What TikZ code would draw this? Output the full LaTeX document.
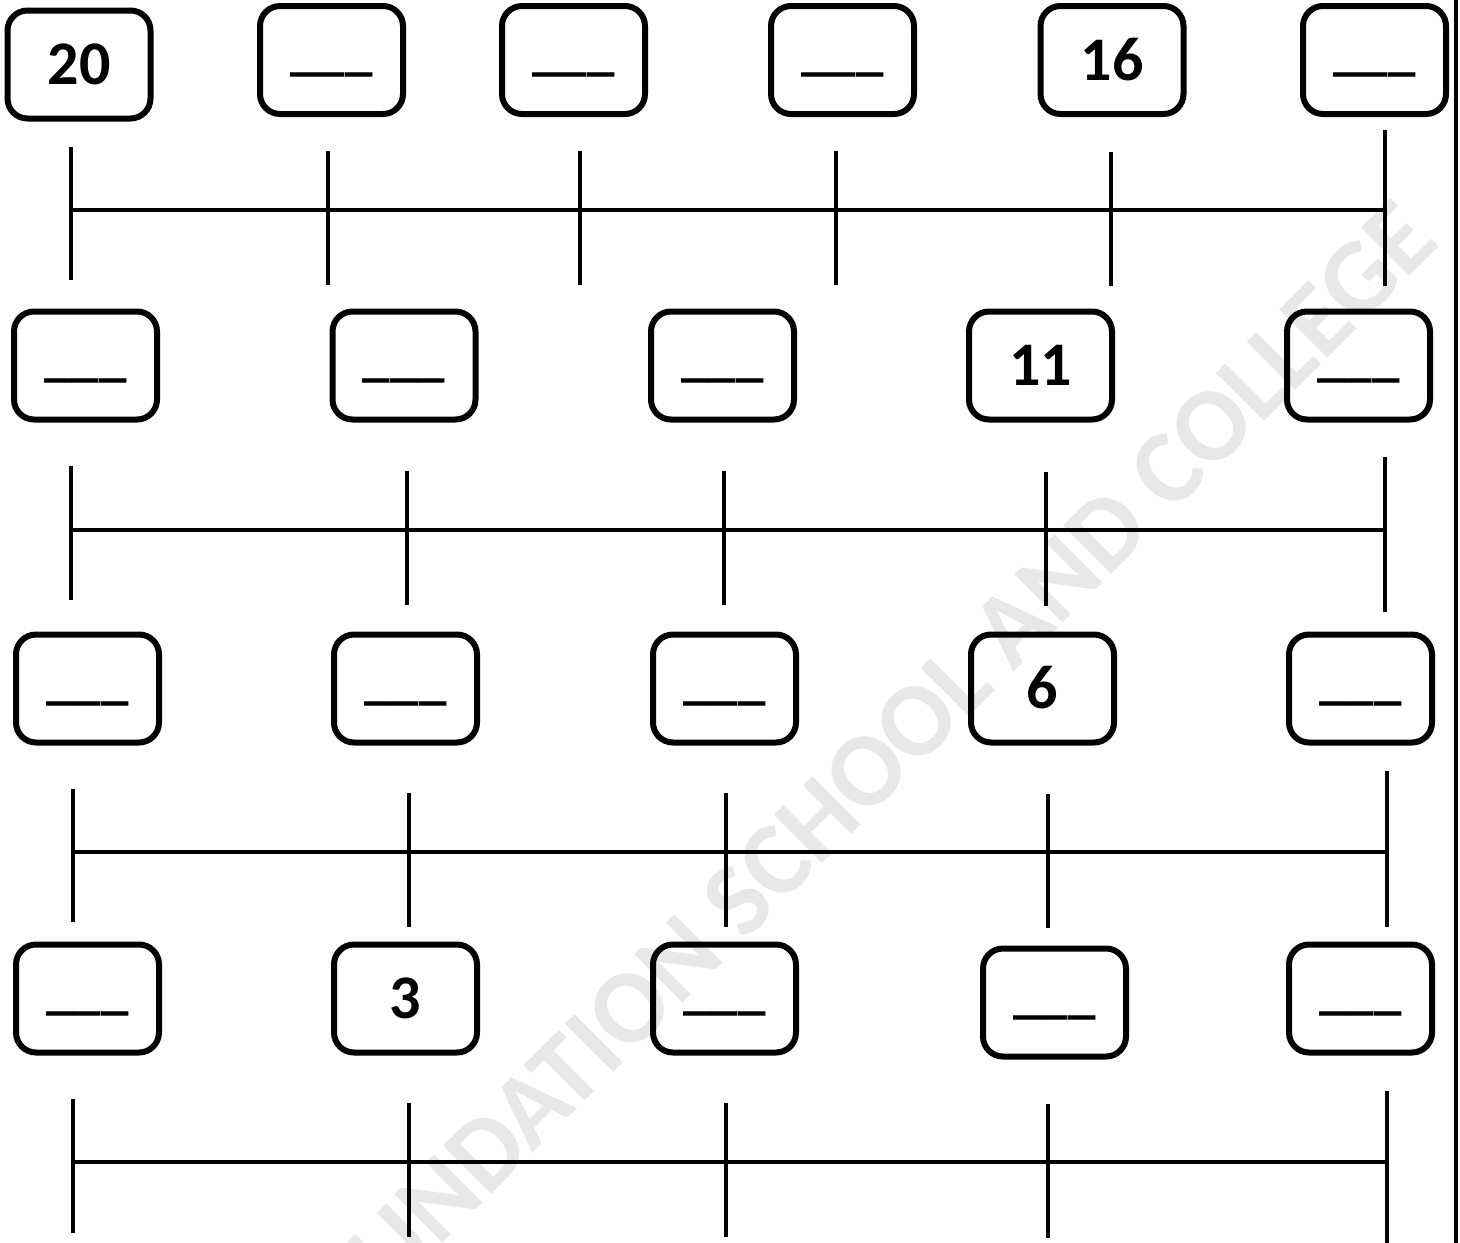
\documentclass[tikz,border=0pt]{standalone}
\usepackage{fontspec}
\setmainfont{Carlito}
\begin{document}
\begin{tikzpicture}[x=1pt,y=-1pt,
  box/.style={draw,line width=6pt,rounded corners=20pt,minimum width=143pt,minimum height=108pt,inner sep=0pt},
  numbox/.style={box,font=\fontsize{62}{62}\bfseries,text height=40pt,text depth=0pt},
  blankbox/.style={box,font=\fontsize{55}{55}\bfseries,text height=19pt,text depth=0pt},
  tickline/.style={line width=4pt},
  axisline/.style={line width=4.5pt},
  wmark/.style={rotate=45,text=black!9,font=\fontsize{105}{105}\bfseries,inner sep=0pt}]
\useasboundingbox (0,0) rectangle (1460,1243);
\clip (0,0) rectangle (1460,1243);
% watermark
\node[wmark] (wm) at (850,788) {FOUNDATION SCHOOL AND COLLEGE};
% row 1 boxes
\node[numbox] (a1) at (79,64.5) {20};
\node[blankbox] (a2) at (331.5,60) {\_\_\_};
\node[blankbox] (a3) at (573.5,60) {\_\_\_};
\node[blankbox] (a4) at (842.5,60) {\_\_\_};
\node[numbox] (a5) at (1112,60) {16};
\node[blankbox] (a6) at (1374.5,60) {\_\_\_};
% row 2 boxes
\node[blankbox] (b1) at (85.5,365.5) {\_\_\_};
\node[blankbox] (b2) at (404,365.5) {\_\_\_};
\node[blankbox] (b3) at (722.5,365.5) {\_\_\_};
\node[numbox] (b4) at (1040.5,365.5) {11};
\node[blankbox] (b5) at (1358.5,365.5) {\_\_\_};
% row 3 boxes
\node[blankbox] (c1) at (87.5,688.5) {\_\_\_};
\node[blankbox] (c2) at (405.5,688.5) {\_\_\_};
\node[blankbox] (c3) at (724.5,688.5) {\_\_\_};
\node[numbox] (c4) at (1042.5,688.5) {6};
\node[blankbox] (c5) at (1360.5,688.5) {\_\_\_};
% row 4 boxes
\node[blankbox] (d1) at (87.5,998.5) {\_\_\_};
\node[numbox] (d2) at (405.5,998.5) {3};
\node[blankbox] (d3) at (724.5,998.5) {\_\_\_};
\node[blankbox] (d4) at (1054.5,1002.5) {\_\_\_};
\node[blankbox] (d5) at (1360.5,998.5) {\_\_\_};
% number line 1
\coordinate (l1s) at (71,210);
\coordinate (l1e) at (1385,210);
\draw[axisline] (l1s) -- (l1e);
\draw[tickline] (71,147) -- (71,280);
\draw[tickline] (328,151) -- (328,285);
\draw[tickline] (580,151) -- (580,285);
\draw[tickline] (836,151) -- (836,285);
\draw[tickline] (1111,152) -- (1111,286);
\draw[tickline] (1385,130) -- (1385,286);
% number line 2
\coordinate (l2s) at (71,530);
\coordinate (l2e) at (1385,530);
\draw[axisline] (l2s) -- (l2e);
\draw[tickline] (71,466) -- (71,600);
\draw[tickline] (407,471) -- (407,605);
\draw[tickline] (724,471) -- (724,605);
\draw[tickline] (1046,472) -- (1046,606);
\draw[tickline] (1385,457) -- (1385,612);
% number line 3
\coordinate (l3s) at (73,852);
\coordinate (l3e) at (1387,852);
\draw[axisline] (l3s) -- (l3e);
\draw[tickline] (73,789) -- (73,922);
\draw[tickline] (409,793) -- (409,927);
\draw[tickline] (726,793) -- (726,927);
\draw[tickline] (1048,794) -- (1048,928);
\draw[tickline] (1387,771) -- (1387,927);
% number line 4
\coordinate (l4s) at (73,1162);
\coordinate (l4e) at (1387,1162);
\draw[axisline] (l4s) -- (l4e);
\draw[tickline] (73,1099) -- (73,1233);
\draw[tickline] (409,1103) -- (409,1237);
\draw[tickline] (726,1103) -- (726,1237);
\draw[tickline] (1048,1104) -- (1048,1238);
\draw[tickline] (1387,1091) -- (1387,1243);
% right border
\coordinate (rt) at (1456,0);
\coordinate (rb) at (1456,1243);
\draw[line width=4pt] (rt) -- (rb);
\end{tikzpicture}
\end{document}
